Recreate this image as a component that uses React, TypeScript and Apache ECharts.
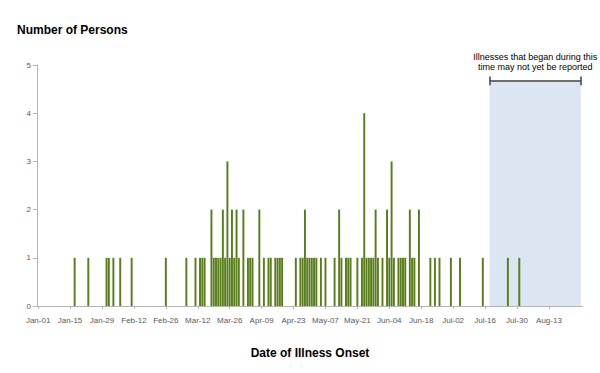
import React, { useEffect, useRef } from "react";
import * as echarts from "echarts";

// Axis categories: every day from Jan-01 to Aug-27
const monthNames = ["Jan", "Feb", "Mar", "Apr", "May", "Jun", "Jul", "Aug"];
const monthLengths = [31, 28, 31, 30, 31, 30, 31, 27];
const labelStep = 14;
const lastLabel = "Aug-13";

// Onset dates with at least one case, and number of persons for each
const onsetDates = [
  "Jan-17", "Jan-23", "Jan-31", "Feb-01", "Feb-03", "Feb-06", "Feb-11", "Feb-26",
  "Mar-07", "Mar-11", "Mar-13", "Mar-14", "Mar-15", "Mar-18", "Mar-19", "Mar-20",
  "Mar-21", "Mar-22", "Mar-23", "Mar-24", "Mar-25", "Mar-26", "Mar-27", "Mar-28",
  "Mar-29", "Mar-30", "Apr-01", "Apr-03", "Apr-04", "Apr-05", "Apr-08", "Apr-10",
  "Apr-12", "Apr-13", "Apr-15", "Apr-16", "Apr-17", "Apr-18", "Apr-24", "Apr-26",
  "Apr-27", "Apr-28", "Apr-29", "Apr-30", "May-01", "May-02", "May-03", "May-05",
  "May-07", "May-11", "May-13", "May-14", "May-16", "May-17", "May-18", "May-21",
  "May-23", "May-24", "May-25", "May-26", "May-27", "May-28", "May-29", "May-30",
  "Jun-01", "Jun-03", "Jun-04", "Jun-05", "Jun-06", "Jun-08", "Jun-09", "Jun-10",
  "Jun-11", "Jun-13", "Jun-14", "Jun-15", "Jun-17", "Jun-22", "Jun-24", "Jun-26",
  "Jul-01", "Jul-05", "Jul-15", "Jul-26", "Jul-31",
];
const personCounts = [
  1, 1, 1, 1, 1, 1, 1, 1,
  1, 1, 1, 1, 1, 2, 1, 1,
  1, 1, 2, 1, 3, 1, 2, 1,
  2, 1, 2, 1, 1, 1, 2, 1,
  1, 1, 1, 1, 1, 1, 1, 1,
  1, 2, 1, 1, 1, 1, 1, 1,
  1, 1, 2, 1, 1, 1, 1, 1,
  1, 4, 1, 1, 1, 1, 2, 1,
  1, 2, 1, 3, 1, 1, 1, 1,
  1, 2, 1, 1, 2, 1, 1, 1,
  1, 1, 1, 1, 1,
];

// Reporting-lag window
const lagStart = "Jul-18";
const lagEnd = "Aug-27";
const lagTop = 4.65;
const bracketY = 4.67;
const bracketCapLow = 4.58;
const bracketCapHigh = 4.76;
const lagNote = "Illnesses that began during this\ntime may not yet be reported";

const yTicks = [0, 1, 2, 3, 4, 5];

function buildCategories(): string[] {
  const out: string[] = [];
  monthNames.forEach((m, i) => {
    for (let d = 1; d <= monthLengths[i]; d++) {
      out.push(`${m}-${String(d).padStart(2, "0")}`);
    }
  });
  return out;
}

export default function App() {
  const ref = useRef<HTMLDivElement>(null);

  useEffect(() => {
    if (!ref.current) return;
    const chart = echarts.init(ref.current, undefined, { renderer: "svg" });
    const categories = buildCategories();
    const countMap: Record<string, number> = {};
    onsetDates.forEach((d, i) => (countMap[d] = personCounts[i]));
    const values = categories.map((c) => (countMap[c] ? countMap[c] : 0));
    const lastIdx = categories.indexOf(lastLabel);
    const showAt = (idx: number) => idx % labelStep === 0 && idx <= lastIdx;

    const narrow = "'Liberation Sans Narrow', 'Liberation Sans', Arial, sans-serif";
    const sans = "'Liberation Sans', Arial, sans-serif";

    chart.setOption({
      animation: false,
      backgroundColor: "#ffffff",
      grid: { left: 37, right: 18, top: 65, bottom: 67, containLabel: false },
      xAxis: {
        type: "category",
        data: categories,
        boundaryGap: true,
        axisLine: { show: true, lineStyle: { color: "#b4b4b4", width: 1 } },
        axisTick: { show: true, interval: showAt, alignWithLabel: true, length: 3, lineStyle: { color: "#b4b4b4" } },
        axisLabel: { interval: showAt, fontSize: 8, color: "#595959", margin: 10, fontFamily: narrow },
        splitLine: { show: false },
      },
      yAxis: {
        type: "value",
        min: yTicks[0],
        max: yTicks[yTicks.length - 1],
        interval: 1,
        axisLine: { show: true, lineStyle: { color: "#b4b4b4", width: 1 } },
        axisTick: { show: true, length: 4, lineStyle: { color: "#b4b4b4" } },
        axisLabel: { fontSize: 8, color: "#595959", margin: 6, fontFamily: narrow },
        splitLine: { show: false },
      },
      graphic: [
        {
          type: "text",
          left: 17,
          top: 24,
          style: { text: "Number of Persons", fontSize: 12, fontWeight: "bold", fontFamily: sans, fill: "#000" },
        },
        {
          type: "text",
          x: 310,
          y: 353,
          style: {
            text: "Date of Illness Onset",
            fontSize: 12,
            fontWeight: "bold",
            fontFamily: sans,
            fill: "#000",
            align: "center",
            verticalAlign: "middle",
          },
        },
      ],
      series: [
        {
          type: "line",
          data: [],
          z: 1,
          silent: true,
          markArea: {
            silent: true,
            itemStyle: { color: "#dce6f2" },
            label: {
              show: true,
              position: "top",
              distance: 10,
              formatter: lagNote,
              fontSize: 9,
              lineHeight: 10,
              color: "#000",
              fontFamily: narrow,
              align: "center",
            },
            data: [[{ xAxis: lagStart, yAxis: lagTop }, { xAxis: lagEnd, yAxis: 0 }]],
          },
          markLine: {
            silent: true,
            symbol: ["none", "none"],
            label: { show: false },
            lineStyle: { color: "#404040", width: 1.5, type: "solid" },
            data: [
              [{ coord: [lagStart, bracketY] }, { coord: [lagEnd, bracketY] }],
              [{ coord: [lagStart, bracketCapLow] }, { coord: [lagStart, bracketCapHigh] }],
              [{ coord: [lagEnd, bracketCapLow] }, { coord: [lagEnd, bracketCapHigh] }],
            ],
          },
        },
        {
          type: "bar",
          data: values,
          z: 3,
          barWidth: "85%",
          itemStyle: { color: "#587d1a" },
        },
      ],
    });
    return () => chart.dispose();
  }, []);

  return (
    <div
      ref={ref}
      style={{ position: "fixed", left: 0, top: 0, width: 600, height: 373, background: "#fff" }}
    />
  );
}
